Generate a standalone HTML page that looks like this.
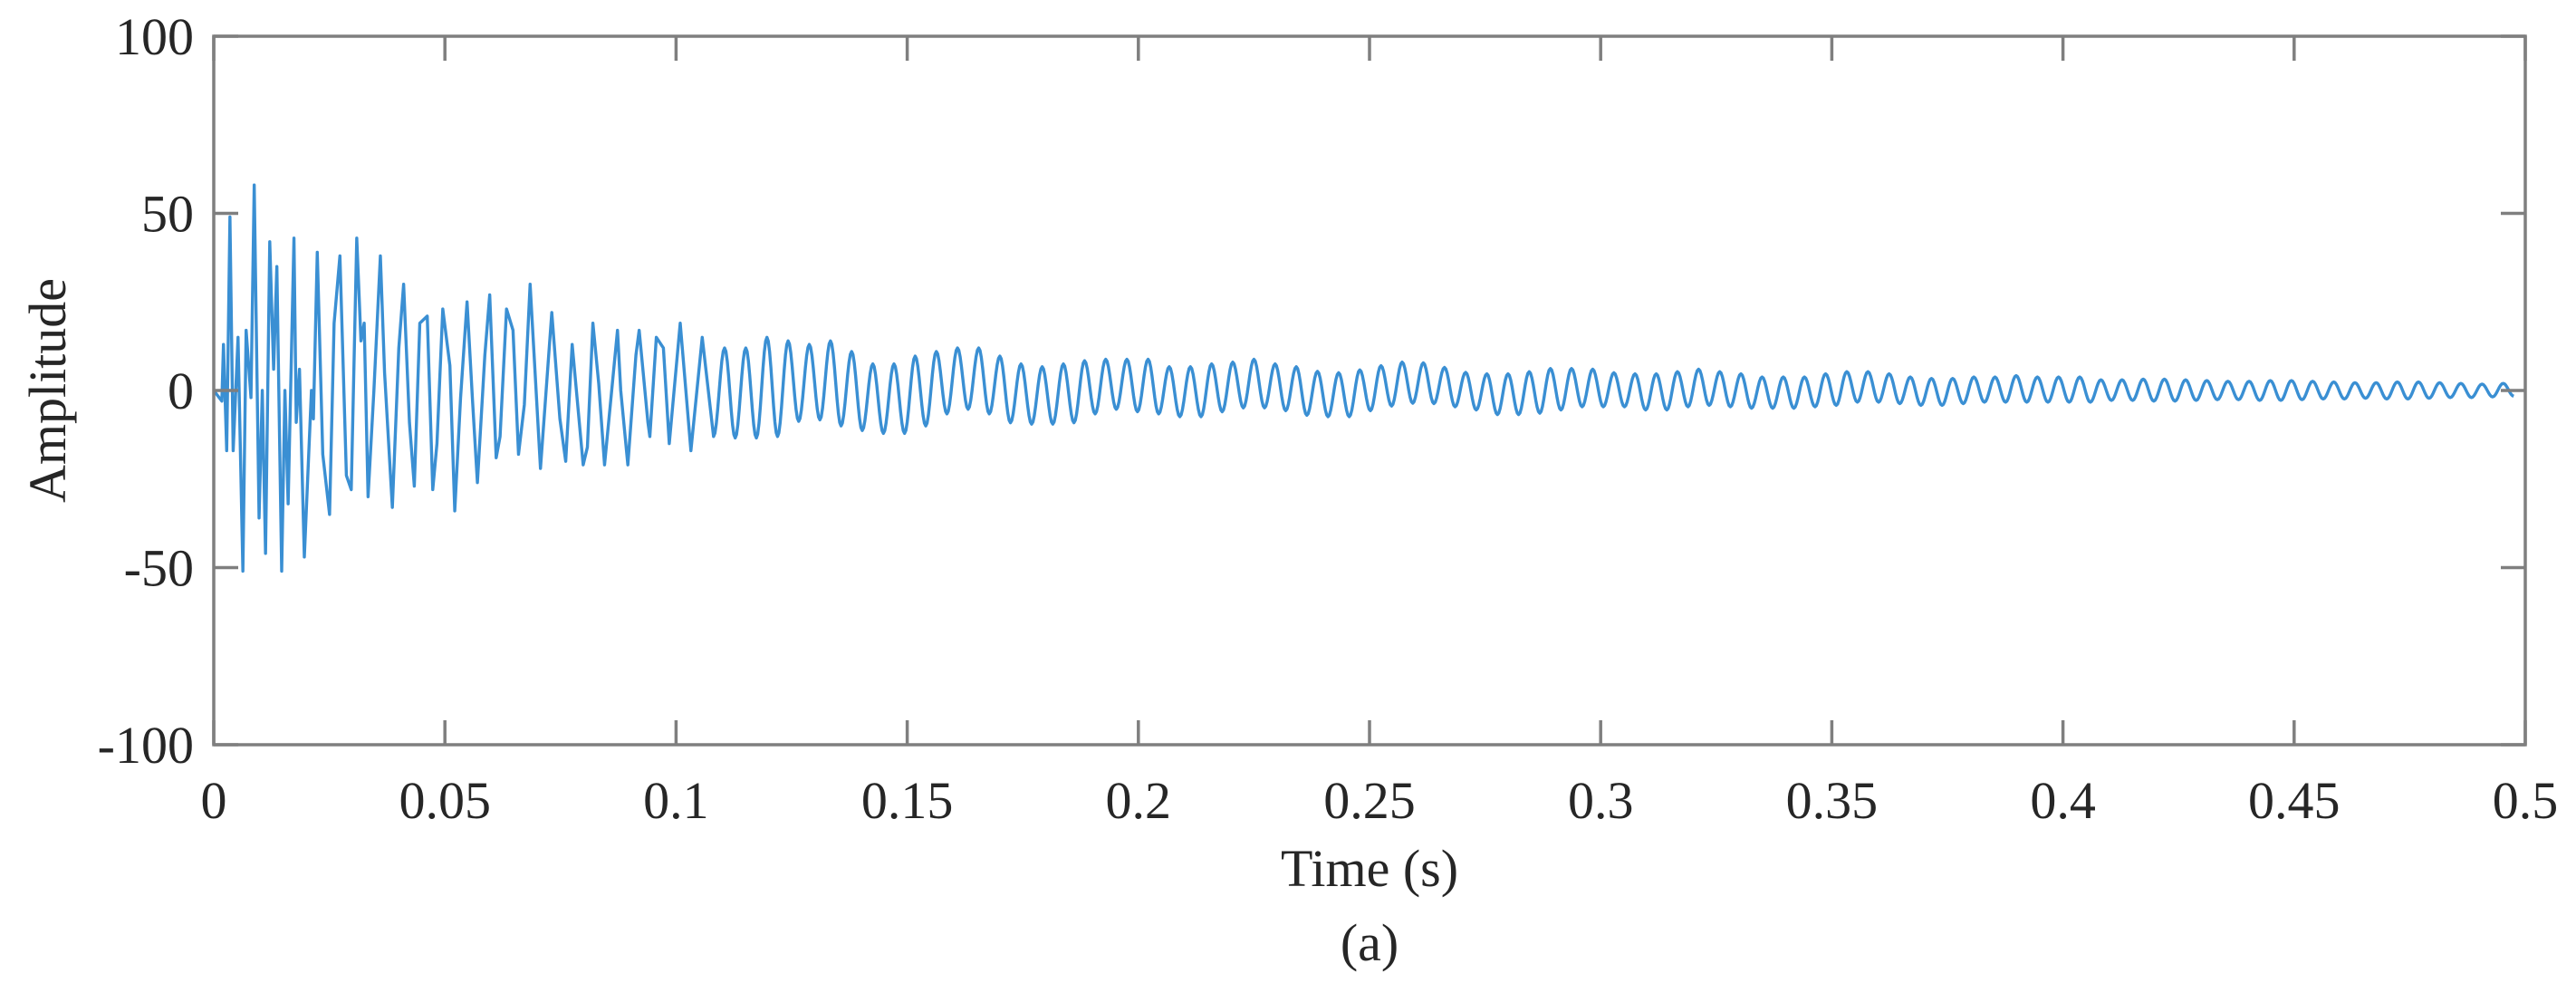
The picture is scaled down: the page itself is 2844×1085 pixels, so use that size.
<!DOCTYPE html>
<html><head><meta charset="utf-8"><style>
html,body{margin:0;padding:0;background:#fff;}
svg{display:block;}
text{font-family:"Liberation Serif",serif;fill:#262626;}
</style></head><body>
<svg id="chart" width="2844" height="1085" viewBox="0 0 2844 1085" xmlns="http://www.w3.org/2000/svg">
<rect width="2844" height="1085" fill="#fff"/>
<g id="plot"></g>
<g id="axes"></g>
<text x="1512" y="978" font-size="58" text-anchor="middle">Time (s)</text>
<text x="1512" y="1060" font-size="58" text-anchor="middle">(a)</text>
<text transform="translate(72,431) rotate(-90)" font-size="58" text-anchor="middle">Amplitude</text>
</svg>
<script>
// ---- data ----
const xTicks = [0,0.05,0.1,0.15,0.2,0.25,0.3,0.35,0.4,0.45,0.5];
const xTickLabels = ["0","0.05","0.1","0.15","0.2","0.25","0.3","0.35","0.4","0.45","0.5"];
const yTicks = [-100,-50,0,50,100];
const yTickLabels = ["-100","-50","0","50","100"];
// early transient: times (ms) and amplitude at turning points
const earlyTimesMs = [0,1.75,2.10,2.80,3.50,4.20,5.25,6.30,7.00,8.05,8.75,9.80,10.50,11.20,12.11,12.95,13.65,14.69,15.39,16.09,17.35,17.84,18.54,19.59,21.13,21.55,22.39,23.58,25.05,26.03,27.29,28.69,29.74,30.93,31.84,32.54,33.38,34.64,36.04,36.95,38.63,40.03,41.07,42.33,43.38,44.57,46.18,47.37,48.28,49.54,51.08,52.13,53.39,54.79,55.98,57.03,58.64,59.69,61.09,61.93,63.33,64.73,65.92,67.18,68.43,70.67,73.12,74.87,76.13,77.53,79.91,80.82,82.01,83.27,84.53,87.33,88.03,89.57,91.32,92.02,93.91,94.33,95.73,97.26,98.53,100.90,103.21,105.66,108.11];
const earlyValues = [0,-3,13,-17,49,-17,15,-51,17,-2,58,-36,0,-46,42,6,35,-51,0,-32,43,-9,6,-47,0,-8,39,-18,-35,19,38,-24,-28,43,14,19,-30,0,38,5,-33,12,30,-9,-27,19,21,-28,-15,23,7,-34,-2,25,-3,-26,10,27,-19,-13,23,17,-18,-4,30,-22,22,-8,-20,13,-21,-16,19,2,-21,17,0,-21,10,17,-9,-13,15,12,-15,19,-17,15,-13];
// steady ringing: first peak time (s), period (s), peak and trough per cycle
const ringStart = 0.1105;
const ringPeriod = 0.00458;
const ringPeaks = [12,12,15,14,13,14,11,7.5,7.5,9.7,11,12,12,9.7,7.5,6.7,7.5,8.4,8.8,8.8,8.8,6.7,6.7,7.5,8,8.8,7.5,6.7,5.4,5,5.8,7,8,
 7.8,6.5,5.1,4.7,4.7,5.3,6.2,6.2,6,5,4.7,4.7,5.3,6,5.3,4.7,3.8,3.8,3.8,4.7,5.3,5.3,4.7,3.8,3.4,3.4,3.8,3.8,4.2,3.8,3.8,3.8,
 3,3,3.2,3.2,3,2.8,2.6,2.6,2.8,2.8,2.6,2.4,2.2,2.2,2.4,2.4,2.2,2,1.8,2];
const ringTroughs = [-13.4,-13.4,-13,-8.7,-8.3,-10,-11.3,-12.1,-12.1,-10,-6.6,-5.3,-6.6,-9.1,-9.5,-9.5,-9.1,-6.6,-5.3,-6,-6.6,-7.4,-7.4,-6,-4.9,-4.9,-5.7,-7,-7.4,-7.4,-5.7,-4.4,-3.6,
 -3.7,-4.6,-5.5,-6.8,-6.8,-6.4,-5.5,-4.6,-4.6,-4.6,-5.5,-5.5,-4.6,-4.2,-4.6,-5,-5,-5,-4.6,-4.2,-3.3,-3.3,-3.7,-4.2,-4.2,-3.7,-3.3,-3.3,-3.3,-3.3,-3.3,-3.3,
 -2.8,-2.8,-3,-3,-2.8,-2.6,-2.6,-2.8,-2.8,-2.6,-2.4,-2.4,-2.2,-2.4,-2.4,-2.2,-2,-2,-1.8,-1.6];

// ---- axes functions ----
const L=236,R=2788,T=40,B=822;
const xMin=0,xMax=0.5,yMin=-100,yMax=100;
const sx=t=>L+(t-xMin)/(xMax-xMin)*(R-L);
const sy=v=>B-(v-yMin)/(yMax-yMin)*(B-T);
const NS="http://www.w3.org/2000/svg";
function mk(tag,attrs,parent){const e=document.createElementNS(NS,tag);for(const k in attrs)e.setAttribute(k,attrs[k]);parent.appendChild(e);return e;}

const plot=document.getElementById('plot');
const axes=document.getElementById('axes');

const pts=[];
for(let i=0;i<earlyTimesMs.length;i++){pts.push([earlyTimesMs[i]/1000,earlyValues[i]]);}
const ext=[];
for(let i=0;i<ringPeaks.length;i++){
  ext.push([ringStart+i*ringPeriod,ringPeaks[i]]);
  if(i<ringTroughs.length)ext.push([ringStart+(i+0.5)*ringPeriod,ringTroughs[i]]);
}
let prev=pts[pts.length-1];
for(const e of ext){
  const n=8;
  for(let k=1;k<=n;k++){
    const f=(1-Math.cos(Math.PI*k/n))/2;
    const t=prev[0]+(e[0]-prev[0])*k/n;
    const v=prev[1]+(e[1]-prev[1])*f;
    if(t<=xMax)pts.push([t,v]);
  }
  prev=e;
}
let d='';
pts.forEach((p,i)=>{d+=(i?'L':'M')+sx(p[0]).toFixed(2)+','+sy(p[1]).toFixed(2);});
const line=mk('path',{d:d,fill:'none',stroke:'#3a8fd3','stroke-width':3.4,'stroke-linejoin':'round'},plot);



const box=mk('rect',{x:L,y:T,width:R-L,height:B-T,fill:'none',stroke:'#7f7f7f','stroke-width':3.5},axes);


const tl=27;
xTicks.forEach((t,i)=>{
  const x=sx(t);
  const a=mk('line',{x1:x,y1:B,x2:x,y2:B-tl,stroke:'#7f7f7f','stroke-width':3.5},axes);
  
  
  const b=mk('line',{x1:x,y1:T,x2:x,y2:T+tl,stroke:'#7f7f7f','stroke-width':3.5},axes);
  
  
  const lb=mk('text',{x:x,y:903,'font-size':58,'text-anchor':'middle'},axes);
  lb.textContent=xTickLabels[i];
  
  
});
yTicks.forEach((v,i)=>{
  const y=sy(v);
  const a=mk('line',{x1:L,y1:y,x2:L+tl,y2:y,stroke:'#7f7f7f','stroke-width':3.5},axes);
  
  
  const b=mk('line',{x1:R,y1:y,x2:R-tl,y2:y,stroke:'#7f7f7f','stroke-width':3.5},axes);
  
  
  const lb=mk('text',{x:214,y:y+20,'font-size':58,'text-anchor':'end'},axes);
  lb.textContent=yTickLabels[i];
  
  
});
</script>
</body></html>
